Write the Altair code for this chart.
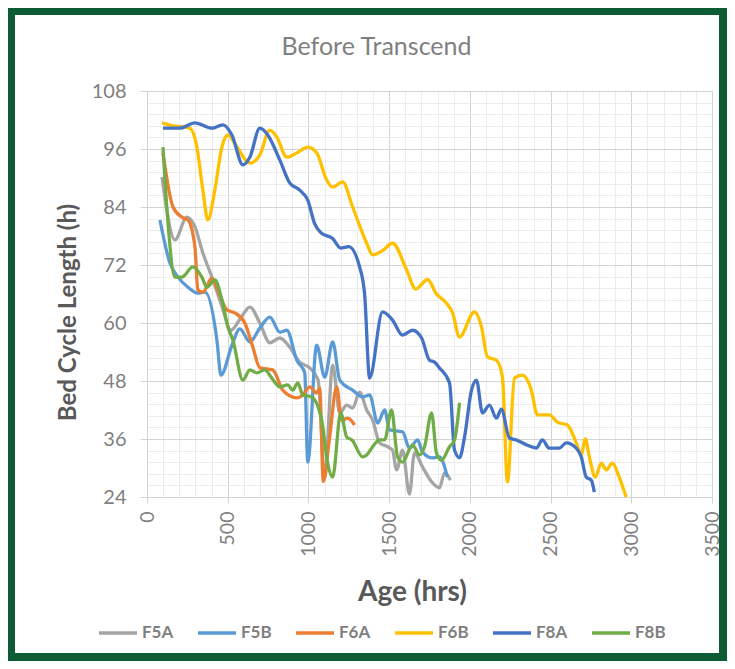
import altair as alt
import pandas as pd

series_names = ["F5A", "F5B", "F6A", "F6B", "F8A", "F8B"]
series_colors = ["#a5a5a5", "#5b9bd5", "#ed7d31", "#ffc000", "#4472c4", "#70ad47"]

f5a_x = [93, 173, 247, 297, 346, 402, 464, 520, 580, 637, 699, 761, 823, 884, 946, 1008, 1060, 1101, 1150,
         1194, 1237, 1274, 1317, 1361, 1398, 1441, 1490, 1521, 1546, 1583, 1626, 1657, 1707, 1769, 1812, 1843, 1880]
f5a_y = [90.2, 77.2, 81.9, 79.9, 74.5, 69.5, 63.5, 58.5, 61, 63.3, 60, 55.9, 56.9, 55, 51.9, 50.7, 48.2, 28, 51.3,
         41.4, 43, 42.4, 45.7, 42, 39.9, 35.2, 34.4, 33.7, 29.6, 33.7, 24.6, 33.1, 30.2, 26.9, 25.9, 29, 27.5]

f5b_x = [80, 142, 192, 254, 315, 359, 433, 458, 526, 575, 637, 700, 761, 823, 866, 928, 977, 996, 1051, 1101,
         1150, 1194, 1274, 1336, 1379, 1429, 1472, 1503, 1583, 1626, 1676, 1707, 1769, 1812, 1861]
f5b_y = [81.3, 72.4, 69.5, 67.4, 66.2, 66.4, 56.5, 49.2, 55.4, 58.8, 56.1, 59, 61.2, 58.1, 58.5, 52.3, 49.7, 31.2,
         55.4, 48.8, 56.1, 48.2, 46.1, 44.7, 45.1, 39.3, 42, 37.9, 37.5, 34.1, 35.8, 33.3, 32.1, 32.3, 28.1]

f6a_x = [99, 161, 216, 254, 297, 315, 346, 402, 439, 495, 544, 606, 656, 699, 779, 841, 928, 965, 1008, 1051,
         1070, 1092, 1130, 1175, 1206, 1243, 1286]
f6a_y = [95.2, 84, 81.9, 81.3, 75.7, 66.8, 66.4, 69.3, 66.8, 62.7, 62.1, 60, 55, 50.7, 50.3, 46.1, 44.5, 45.1,
         46.8, 45.5, 46.5, 27.2, 36, 46.8, 39.9, 40.3, 38.9]

f6b_x = [93, 160, 220, 266, 309, 346, 377, 420, 464, 501, 557, 637, 699, 761, 804, 866, 928, 996, 1051, 1113,
         1150, 1212, 1274, 1361, 1398, 1460, 1521, 1608, 1665, 1738, 1793, 1850, 1893, 1936, 2028, 2072, 2109,
         2165, 2202, 2233, 2276, 2325, 2381, 2418, 2492, 2542, 2604, 2659, 2690, 2715, 2740, 2777, 2814, 2845,
         2882, 2925, 2968]
f6b_y = [101.4, 100.8, 100.6, 100.3, 96.4, 87.5, 81.3, 87.5, 96.4, 98.9, 96.4, 93.1, 94.8, 99.9, 98.5, 94.3,
         95.2, 96.4, 95.2, 89.6, 88.1, 89.2, 84, 76.5, 74.1, 75, 76.5, 71, 67, 69, 66, 64.3, 62.1, 57.1, 62.3,
         59.2, 53, 52.3, 48.8, 27.1, 48.6, 49.2, 46.1, 41, 41, 39.5, 38.9, 35.2, 32.7, 36, 32.3, 28.1, 31, 29.6,
         31, 28.1, 24]

f8a_x = [99, 204, 297, 402, 470, 526, 594, 637, 699, 748, 823, 884, 946, 996, 1039, 1080, 1150, 1200, 1250,
         1317, 1348, 1379, 1459, 1521, 1583, 1645, 1701, 1750, 1781, 1812, 1874, 1905, 1936, 1967, 2010, 2041,
         2078, 2121, 2165, 2195, 2245, 2288, 2350, 2412, 2449, 2492, 2554, 2597, 2659, 2690, 2721, 2752, 2771]
f8a_y = [100.3, 100.3, 101.4, 100.3, 101, 98.9, 92.7, 94.3, 100.3, 98.9, 93.7, 89, 87.5, 85.4, 80.5, 78.6, 77.5,
         75.5, 75.8, 71.6, 66, 48.6, 62.3, 60.6, 57.5, 58.5, 56.9, 52.3, 51.9, 50.7, 47.6, 33.7, 32.1, 36.4,
         46.1, 48.2, 41.4, 43, 40.3, 42.2, 36.2, 35.8, 34.8, 34.1, 35.8, 34.1, 34.1, 35.2, 34.1, 32.3, 28.1,
         27.5, 25]

f8b_x = [99, 130, 173, 216, 284, 340, 371, 420, 464, 501, 532, 594, 637, 680, 730, 773, 823, 872, 903, 934, 965,
         1020, 1082, 1119, 1150, 1200, 1237, 1270, 1336, 1361, 1398, 1441, 1472, 1515, 1552, 1583, 1645, 1688,
         1719, 1763, 1793, 1824, 1874, 1905, 1936]
f8b_y = [96.4, 80.7, 69.5, 69.5, 71.6, 69.5, 67.4, 68.9, 64.8, 59.2, 56.5, 48.2, 50.3, 49.7, 50.3, 48.6, 46.8,
         47.2, 46.1, 47.6, 45.1, 44.7, 39.9, 31, 28.1, 41.4, 36.4, 35.8, 32.3, 32.7, 34.4, 35.8, 35.8, 42, 32.3,
         31.2, 34.8, 32.7, 34.4, 41.4, 33.1, 31.6, 34.4, 35.8, 43.5]

x_ticks = list(range(0, 3501, 100))          # minor every 100, major every 500
y_ticks = [round(24 + 2.4 * i, 1) for i in range(36)]  # minor every 2.4, major every 12

rows = []
for name, xs, ys in zip(series_names,
                        [f5a_x, f5b_x, f6a_x, f6b_x, f8a_x, f8b_x],
                        [f5a_y, f5b_y, f6a_y, f6b_y, f8a_y, f8b_y]):
    for i, (a, b) in enumerate(zip(xs, ys)):
        rows.append({"series": name, "age": a, "bcl": b, "i": i})
df = pd.DataFrame(rows)

FONT = "Lato"
LABEL = "#7f7f7f"
TITLE = "#595959"

x_axis = alt.Axis(
    values=x_ticks,
    labelExpr="datum.value % 500 === 0 ? format(datum.value, 'd') : ''",
    gridColor={"condition": {"test": "datum.value % 500 === 0", "value": "#d3d3d3"}, "value": "#ececec"},
    tickOpacity={"condition": {"test": "datum.value % 500 === 0", "value": 1}, "value": 0},
    labelAngle=-90, labelOverlap=False, labelFlush=False, labelBound=False,
    labelFont=FONT, labelFontSize=19.5, labelColor=LABEL, labelPadding=8,
    tickSize=6, tickColor="#d3d3d3", domainColor="#d3d3d3",
    title="Age (hrs)", titleFont=FONT, titleFontSize=28, titleFontWeight="bold", titleColor=TITLE,
    titleX=265, titleY=95, titleAlign="center", titleBaseline="middle",
)
y_axis = alt.Axis(
    values=y_ticks,
    labelExpr="datum.value % 12 === 0 ? format(datum.value, 'd') : ''",
    gridColor={"condition": {"test": "datum.value % 12 === 0", "value": "#d3d3d3"}, "value": "#ececec"},
    tickOpacity={"condition": {"test": "datum.value % 12 === 0", "value": 1}, "value": 0},
    labelOverlap=False, labelFlush=False, labelBound=False,
    labelFont=FONT, labelFontSize=20, labelColor=LABEL, labelPadding=14,
    tickSize=7, tickColor="#d3d3d3", domainColor="#d3d3d3",
    title="Bed Cycle Length (h)", titleFont=FONT, titleFontSize=24, titleFontWeight="bold", titleColor=TITLE,
    titleX=-79, titleY=221, titleAngle=270, titleAlign="center", titleBaseline="middle",
)

lines = alt.Chart(df).mark_line(interpolate="monotone", strokeWidth=3.3).encode(
    x=alt.X("age:Q", scale=alt.Scale(domain=[0, 3500], nice=False, zero=False), axis=x_axis),
    y=alt.Y("bcl:Q", scale=alt.Scale(domain=[24, 108], nice=False, zero=False), axis=y_axis),
    color=alt.Color("series:N",
                    scale=alt.Scale(domain=series_names, range=series_colors),
                    legend=alt.Legend(orient="none", legendX=-50, legendY=521, direction="horizontal",
                                      columns=6, title=None, symbolType="stroke", symbolSize=1444,
                                      symbolStrokeWidth=3.3, labelFont=FONT, labelFontSize=17,
                                      labelFontWeight="bold", labelColor=LABEL, labelOffset=3,
                                      columnPadding=17, padding=0)),
    order="i:Q",
)

frame = alt.Chart(alt.Data(values=[{}])).mark_rect(filled=False, stroke="#0d5b34", strokeWidth=8).encode(
    x=alt.value(-136), x2=alt.value(576), y=alt.value(-80), y2=alt.value(566)
)

chart = alt.layer(lines, frame).properties(
    width=565, height=406,
    title=alt.TitleParams("Before Transcend", font=FONT, fontSize=25, fontWeight="normal", color=LABEL,
                          anchor="middle", frame="group", dx=-53, offset=-53),
    autosize=alt.AutoSizeParams(type="none"),
    padding={"left": 139, "top": 83, "right": 15, "bottom": 164},
).configure_view(strokeWidth=0).configure(background="white")

chart.save("out.html", embed_options={"renderer": "svg", "actions": False})
